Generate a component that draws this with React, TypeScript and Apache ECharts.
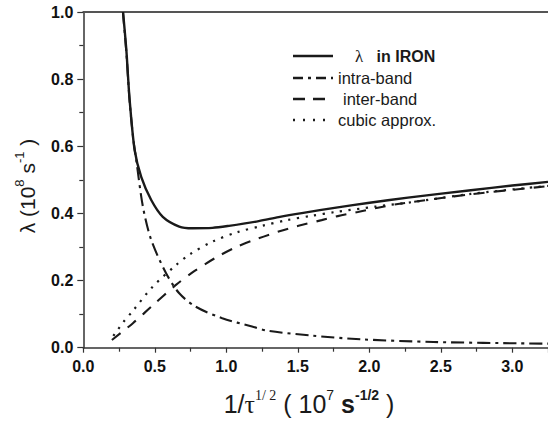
import React, { useEffect, useRef } from "react";
import * as echarts from "echarts";

// Total λ in iron (solid)
const totalX = [0.278, 0.301, 0.313, 0.324, 0.359, 0.405, 0.475, 0.556, 0.671, 0.764, 0.903, 1.019, 1.227, 1.366, 1.528, 1.78, 1.99, 2.27, 2.71, 3.0, 3.25];
const totalY = [1.0, 0.887, 0.807, 0.738, 0.589, 0.509, 0.44, 0.39, 0.361, 0.356, 0.357, 0.363, 0.377, 0.389, 0.401, 0.418, 0.431, 0.447, 0.469, 0.483, 0.494];

// intra-band (dash-dot)
const intraX = [0.277, 0.301, 0.324, 0.35, 0.371, 0.417, 0.475, 0.579, 0.671, 0.787, 0.972, 1.18, 1.297, 1.6, 1.94, 2.45, 3.25];
const intraY = [1.0, 0.88, 0.735, 0.62, 0.557, 0.42, 0.321, 0.222, 0.162, 0.122, 0.088, 0.063, 0.05, 0.036, 0.025, 0.017, 0.012];

// inter-band (dashed)
const interX = [0.2, 0.347, 0.475, 0.648, 0.776, 0.926, 1.076, 1.227, 1.366, 1.505, 1.667, 1.78, 1.92, 2.06, 2.2, 2.71, 3.25];
const interY = [0.023, 0.073, 0.122, 0.187, 0.228, 0.268, 0.301, 0.326, 0.346, 0.363, 0.38, 0.392, 0.404, 0.417, 0.428, 0.457, 0.481];

// cubic approx. (dotted)
const cubicX = [0.21, 0.278, 0.347, 0.486, 0.648, 0.741, 0.903, 1.076, 1.25, 1.424, 1.597, 1.76, 2.04, 2.27, 2.71, 3.25];
const cubicY = [0.035, 0.075, 0.11, 0.182, 0.246, 0.277, 0.316, 0.344, 0.363, 0.38, 0.393, 0.404, 0.42, 0.432, 0.458, 0.482];

const legendLabels = ["intra-band", "inter-band", "cubic approx."];

const zip = (xs: number[], ys: number[]) => xs.map((x, i) => [x, ys[i]]);

const SANS = "'Liberation Sans', Arial, sans-serif";
const SERIF = "'Liberation Serif', 'Times New Roman', serif";
const INK = "#1a1a1a";

export default function App() {
  const ref = useRef<HTMLDivElement>(null);

  useEffect(() => {
    if (!ref.current) return;
    const chart = echarts.init(ref.current, undefined, { renderer: "svg" });

    const lineSeries = (name: string, xs: number[], ys: number[], type: any, width: number) => ({
      name,
      type: "line",
      data: zip(xs, ys),
      showSymbol: false,
      symbol: "none",
      smooth: 0.3,
      clip: true,
      lineStyle: { color: INK, width, type, cap: "butt" },
      z: 3,
    });

    const legendRows = [
      { y: 56, dash: null as any, text: null as any },
      { y: 78, dash: [10, 5, 3, 5], text: legendLabels[0], tx: 338 },
      { y: 99, dash: [12, 8], text: legendLabels[1], tx: 343 },
      { y: 120, dash: [2, 8], text: legendLabels[2], tx: 338 },
    ];

    const graphics: any[] = [];
    legendRows.forEach((r) => {
      graphics.push({
        type: "line",
        shape: { x1: 293, y1: r.y, x2: 333, y2: r.y },
        style: { stroke: INK, lineWidth: 2.5, lineDash: r.dash || undefined },
      });
      if (r.text) {
        graphics.push({
          type: "text",
          x: (r as any).tx,
          y: r.y,
          style: { text: r.text, font: `16.5px ${SANS}`, fill: INK, verticalAlign: "middle", align: "left" },
        });
      }
    });
    graphics.push({
      type: "text",
      x: 355,
      y: 56,
      style: {
        text: "{l|λ}{b|   in IRON}",
        verticalAlign: "middle",
        align: "left",
        fill: INK,
        rich: {
          l: { fontFamily: SERIF, fontSize: 17, fill: INK },
          b: { fontFamily: SANS, fontSize: 16, fontWeight: "bold", fill: INK },
        },
      },
    });

    // Y axis title
    graphics.push({
      type: "text",
      x: 27,
      y: 186,
      rotation: Math.PI / 2,
      style: {
        text: "{m|λ (10}{s|8}{m| s}{s|-1}{m| )}",
        align: "center",
        verticalAlign: "middle",
        fill: INK,
        rich: {
          m: { fontFamily: SANS, fontSize: 21, lineHeight: 28, fill: INK },
          s: { fontFamily: SANS, fontSize: 13, lineHeight: 13, verticalAlign: "top", fill: INK },
        },
      },
    });

    // X axis title
    graphics.push({
      type: "text",
      x: 309,
      y: 404,
      style: {
        text: "{m|1/}{t|τ}{ts|1/ 2}{m| ( 10}{s|7}{m| }{mb|s}{sb|-1/2}{m| )}",
        align: "center",
        verticalAlign: "middle",
        fill: INK,
        rich: {
          m: { fontFamily: SANS, fontSize: 25, lineHeight: 32, fill: INK },
          mb: { fontFamily: SANS, fontSize: 25, fontWeight: "bold", lineHeight: 32, fill: INK },
          t: { fontFamily: SERIF, fontSize: 26, lineHeight: 32, fill: INK },
          ts: { fontFamily: SERIF, fontSize: 14, lineHeight: 15, verticalAlign: "top", fill: INK },
          s: { fontFamily: SANS, fontSize: 14, lineHeight: 15, verticalAlign: "top", fill: INK },
          sb: { fontFamily: SANS, fontSize: 14, fontWeight: "bold", lineHeight: 15, verticalAlign: "top", fill: INK },
        },
      },
    });

    const tickLabel = {
      color: "#111",
      fontFamily: SANS,
      fontWeight: "bold" as const,
      fontSize: 16,
    };

    chart.setOption({
      animation: false,
      backgroundColor: "#fff",
      grid: { left: 83.3, top: 12, right: -3.3, bottom: 78.3, containLabel: false },
      xAxis: [
        {
          type: "value",
          min: 0,
          max: 3.25,
          interval: 0.5,
          axisLine: { show: true, lineStyle: { color: "#333", width: 1.5 } },
          axisTick: { show: true, inside: false, length: 5, lineStyle: { color: "#333", width: 1.2 } },
          minorTick: { show: true, splitNumber: 2, length: 4, lineStyle: { color: "#333", width: 1.2 } },
          splitLine: { show: false },
          axisLabel: {
            ...tickLabel,
            margin: 11,
            showMaxLabel: false,
            formatter: (v: number) => v.toFixed(1),
          },
        },
        {
          type: "value",
          position: "top",
          min: 0,
          max: 3.25,
          axisLine: { show: true, lineStyle: { color: "#555", width: 2 } },
          axisTick: { show: false },
          axisLabel: { show: false },
          splitLine: { show: false },
        },
      ],
      yAxis: {
        type: "value",
        min: 0,
        max: 1,
        interval: 0.2,
        axisLine: { show: true, lineStyle: { color: "#333", width: 1.5 } },
        axisTick: { show: true, inside: false, length: 6, lineStyle: { color: "#333", width: 1.2 } },
        minorTick: { show: true, splitNumber: 2, length: 4, lineStyle: { color: "#333", width: 1.2 } },
        splitLine: { show: false },
        axisLabel: { ...tickLabel, margin: 10, formatter: (v: number) => v.toFixed(1) },
      },
      series: [
        lineSeries("λ in IRON", totalX, totalY, "solid", 2.4),
        lineSeries("intra-band", intraX, intraY, [13, 5, 3, 5], 2.1),
        lineSeries("inter-band", interX, interY, [11, 9], 2.1),
        lineSeries("cubic approx.", cubicX, cubicY, [2.2, 6.5], 2.2),
      ],
      graphic: graphics,
    });

    return () => chart.dispose();
  }, []);

  return <div ref={ref} style={{ width: 548, height: 426, position: "absolute", left: 0, top: 0 }} />;
}
